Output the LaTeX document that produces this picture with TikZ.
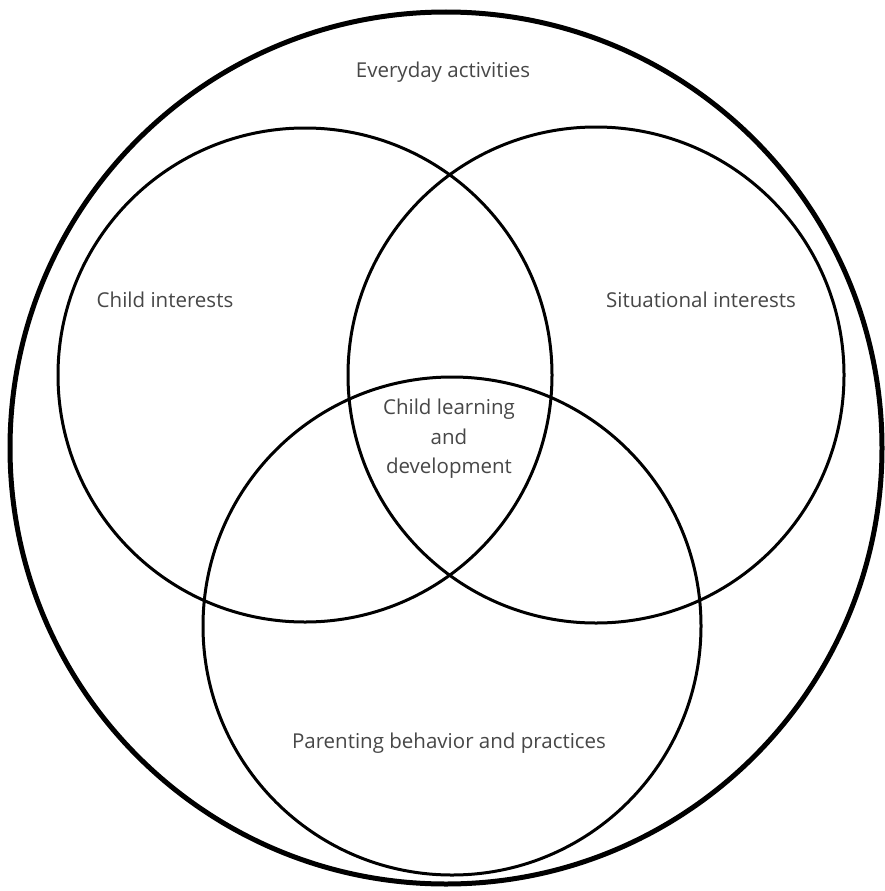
\documentclass[tikz,border=0pt]{standalone}
\usepackage{fontspec}
\setmainfont{Open Sans}
\begin{document}
\begin{tikzpicture}[x=1pt,y=-1pt,
  ring/.style={draw=black,line width=3pt},
  outerring/.style={draw=black,line width=5pt},
  lbl/.style={text=black!72,font=\fontsize{20.5}{29.5}\selectfont,align=center,inner sep=0pt}]
\useasboundingbox[fill=white] (0,0) rectangle (884,891);
\draw[outerring] (446,448) circle[radius=436];
\draw[ring] (305,375) circle[radius=247];
\draw[ring] (596,375) circle[radius=248];
\draw[ring] (452,626) circle[radius=249];
\node[lbl] (everyday) at (443,72) {Everyday activities};
\node[lbl] (child) at (165,300) {Child interests};
\node[lbl] (situational) at (701,300) {Situational interests};
\node[lbl] (center) at (449,439) {Child learning\\and\\development};
\node[lbl] (parenting) at (449,743) {Parenting behavior and practices};
\end{tikzpicture}
\end{document}
